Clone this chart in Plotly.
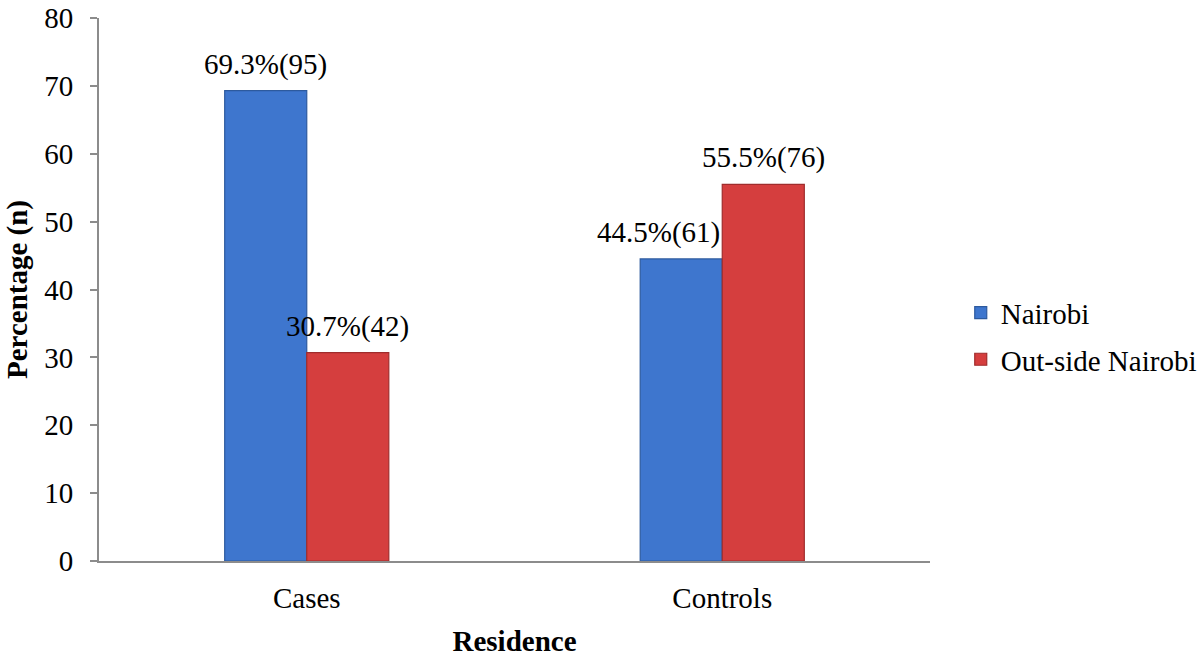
import plotly.graph_objects as go

# Residence of study participants, by group
groups = ["Cases", "Controls"]
nairobi_pct = [69.3, 44.5]
nairobi_n = [95, 61]
outside_pct = [30.7, 55.5]
outside_n = [42, 76]

FONT = "Liberation Serif, Times New Roman, serif"
AXIS_GREY = "#8c8c8c"
SIZE = 29

series = [
    ("Nairobi", nairobi_pct, nairobi_n, "#3e76ce", "#2d5a9e", "a"),
    ("Out-side Nairobi", outside_pct, outside_n, "#d53e3e", "#a02c2c", "b"),
]

fig = go.Figure()
for name, pct, n, color, edge, grp in series:
    fig.add_trace(go.Bar(
        name=name,
        x=groups,
        y=pct,
        marker=dict(color=color, line=dict(color=edge, width=1.2)),
        legendgroup=grp,
        hoverinfo="x+y+name",
    ))

# Value labels above each bar: "pct%(n)".  The two series sit either side
# of the category centre, half a bar width apart.
BAR_HALF = 41
for k, (name, pct, n, _, _, _) in enumerate(series):
    side = -1 if k == 0 else 1
    for g, p, c in zip(groups, pct, n):
        xshift = side * BAR_HALF
        xanchor = "center"
        # keep the left-hand label of a pair clear of the taller neighbour
        other = series[1 - k][1][groups.index(g)]
        if side < 0 and other > p:
            xanchor = "right"
            xshift = 0
        fig.add_annotation(
            x=g, y=p, xref="x", yref="y",
            text=f"{p:.1f}%({c})",
            showarrow=False,
            xanchor=xanchor, yanchor="bottom",
            xshift=xshift, yshift=8,
            font=dict(family=FONT, size=SIZE, color="#000000"),
        )

fig.update_layout(
    width=1204,
    height=664,
    barmode="group",
    bargap=0.605,
    bargroupgap=0,
    plot_bgcolor="white",
    paper_bgcolor="white",
    margin=dict(l=99, r=274, t=18, b=103, autoexpand=False),
    font=dict(family=FONT, size=SIZE, color="#000000"),
    legend=dict(
        x=1.037, xanchor="left",
        y=0.414, yanchor="middle",
        traceorder="grouped",
        tracegroupgap=6,
        font=dict(family=FONT, size=SIZE, color="#000000"),
        bgcolor="rgba(0,0,0,0)",
    ),
    xaxis=dict(
        automargin=False,
        showline=True, linecolor=AXIS_GREY, linewidth=2,
        ticks="", showgrid=False,
        tickfont=dict(family=FONT, size=SIZE),
        ticklabelstandoff=10,
        title=dict(text="<b>Residence</b>", font=dict(family=FONT, size=SIZE), standoff=18),
    ),
    yaxis=dict(
        automargin=False,
        range=[0, 80], dtick=10,
        showline=True, linecolor=AXIS_GREY, linewidth=2,
        ticks="outside", ticklen=7, tickcolor=AXIS_GREY, tickwidth=2,
        showgrid=False, zeroline=False,
        tickfont=dict(family=FONT, size=SIZE),
        ticklabelstandoff=11,
        title=dict(text="<b>Percentage (n)</b>", font=dict(family=FONT, size=SIZE), standoff=8),
    ),
)

fig.write_html("out.html")
